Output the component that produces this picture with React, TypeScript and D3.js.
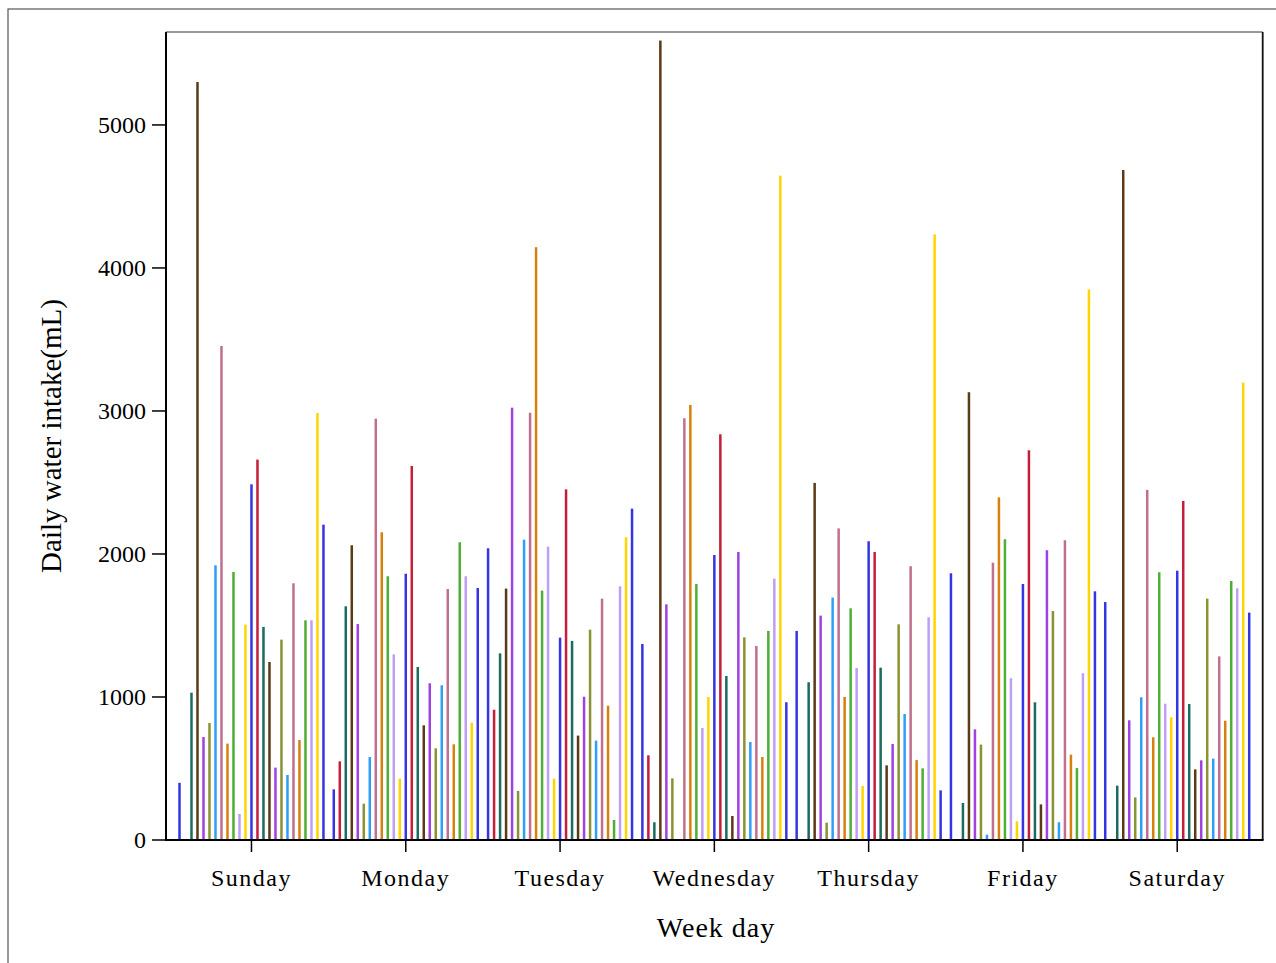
import React from "react";
import * as d3 from "d3";

const days = ["Sunday", "Monday", "Tuesday", "Wednesday", "Thursday", "Friday", "Saturday"];

// 25 participants per day (0 = no bar drawn)
const sunday = [400, 0, 1030, 5300, 720, 818, 1921, 3455, 674, 1874, 182, 1506, 2487, 2660, 1490, 1245, 506, 1401, 455, 1795, 699, 1536, 1536, 2986, 2205];
const monday = [354, 550, 1634, 2061, 1510, 254, 580, 2946, 2152, 1844, 1298, 429, 1862, 2615, 1210, 802, 1096, 641, 1082, 1755, 669, 2082, 1844, 820, 1762];
const tuesday = [2040, 911, 1305, 1758, 3023, 343, 2100, 2988, 4145, 1744, 2051, 429, 1415, 2452, 1392, 730, 1002, 1471, 695, 1688, 939, 140, 1774, 2117, 2317];
const wednesday = [1371, 592, 124, 5590, 1648, 431, 0, 2949, 3042, 1790, 783, 1000, 1993, 2837, 1147, 168, 2014, 1417, 685, 1357, 580, 1462, 1827, 4645, 963];
const thursday = [1462, 0, 1103, 2497, 1569, 121, 1695, 2179, 1000, 1620, 1203, 378, 2089, 2014, 1205, 522, 671, 1508, 881, 1914, 559, 501, 1557, 4235, 347];
const friday = [1865, 0, 259, 3131, 774, 667, 37, 1939, 2396, 2103, 1131, 131, 1790, 2725, 963, 249, 2026, 1601, 124, 2096, 597, 503, 1166, 3850, 1739];
const saturday = [1664, 0, 380, 4685, 837, 298, 998, 2448, 718, 1872, 953, 858, 1883, 2371, 951, 494, 557, 1688, 569, 1284, 834, 1811, 1760, 3198, 1590];

const dayValues = [sunday, monday, tuesday, wednesday, thursday, friday, saturday];

const palette = [
  "#3535e3", "#c41e3a", "#1b6b5e", "#5b3a16", "#a042e0", "#8a9232",
  "#2f9ff5", "#c0708e", "#d8800e", "#4fae35", "#bf9ef5", "#ffd500",
];

const yTicks = [0, 1000, 2000, 3000, 4000, 5000];

const W = 1276;
const H = 963;
const left = 166;
const right = 1262.7;
const top = 32;
const bottom = 840;
const FONT = "'Liberation Serif', 'Times New Roman', serif";

export default function App() {
  const nSeries = sunday.length;
  const x0 = d3.scaleBand<string>().domain(days).range([left, right]).paddingInner(0).paddingOuter(0.054);
  const x1 = d3.scaleBand<number>().domain(d3.range(nSeries)).range([0, x0.bandwidth()]).paddingInner(0).paddingOuter(0.36);
  const y = d3.scaleLinear().domain([0, 5650]).range([bottom, top]);
  const barW = 2.5;

  return (
    <svg width={W} height={H} style={{ position: "absolute", left: 0, top: 0, background: "#fff" }}>
      <rect x={8} y={9} width={W + 20} height={H + 20} fill="#fff" stroke="#555" strokeWidth={1.2} />
      {/* bars */}
      {days.map((d, di) => (
        <g key={d}>
          {dayValues[di].map((v, i) => {
            if (v <= 0) return null;
            const cx = (x0(d) as number) + (x1(i) as number) + x1.bandwidth() / 2;
            return (
              <rect
                key={i}
                x={cx - barW / 2}
                y={y(v)}
                width={barW}
                height={y(0) - y(v)}
                fill={palette[i % palette.length]}
              />
            );
          })}
        </g>
      ))}
      {/* frame */}
      <line x1={left} x2={right} y1={top} y2={top} stroke="#333" strokeWidth={1} />
      <line x1={right} x2={right} y1={top} y2={bottom} stroke="#111" strokeWidth={1.8} />
      <line x1={left} x2={left} y1={top} y2={bottom + 1} stroke="#000" strokeWidth={2} />
      <line x1={left - 1} x2={right + 0.9} y1={bottom} y2={bottom} stroke="#000" strokeWidth={2} />
      {/* y ticks */}
      {yTicks.map((t) => (
        <g key={t}>
          <line x1={left - 14} x2={left} y1={y(t)} y2={y(t)} stroke="#000" strokeWidth={1.5} />
          <text x={left - 20} y={y(t)} dy="0.35em" textAnchor="end" fontFamily={FONT} fontSize={24} fill="#000">
            {t}
          </text>
        </g>
      ))}
      {/* x ticks */}
      {days.map((d) => {
        const cx = (x0(d) as number) + x0.bandwidth() / 2;
        return (
          <g key={d}>
            <line x1={cx} x2={cx} y1={bottom} y2={bottom + 12} stroke="#000" strokeWidth={1.5} />
            <text x={cx} y={886} textAnchor="middle" fontFamily={FONT} fontSize={24} letterSpacing={1.5} fill="#000">
              {d}
            </text>
          </g>
        );
      })}
      <text x={716} y={937} textAnchor="middle" fontFamily={FONT} fontSize={28} letterSpacing={1} fill="#000">
        Week day
      </text>
      <text
        transform={`translate(61, ${(top + bottom) / 2}) rotate(-90)`}
        textAnchor="middle"
        fontFamily={FONT}
        fontSize={29}
        fill="#000"
      >
        Daily water intake(mL)
      </text>
    </svg>
  );
}
